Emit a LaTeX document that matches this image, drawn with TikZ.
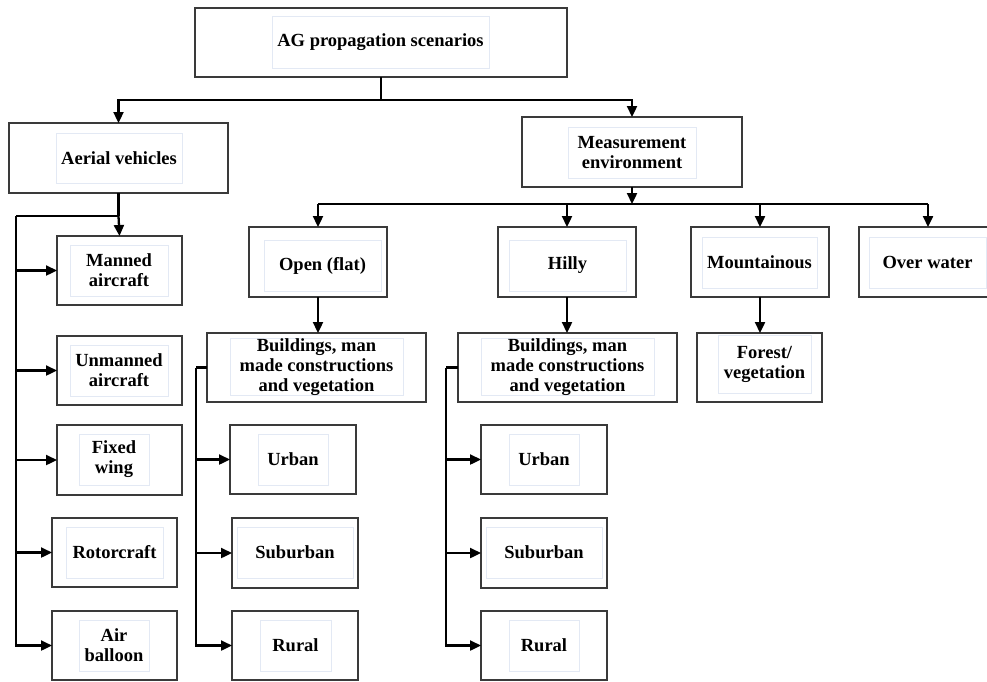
\documentclass[tikz,border=0pt]{standalone}
\usepackage{fontspec}
\setmainfont{Liberation Serif}
\usetikzlibrary{arrows.meta}
\definecolor{boxgray}{HTML}{3A3A3A}
\definecolor{faint}{HTML}{E3E9F4}
\begin{document}
\begin{tikzpicture}[x=1pt,y=-1pt,
  obox/.style 2 args={draw=boxgray, line width=1.4pt, minimum width=#1, minimum height=#2, inner sep=0pt, outer sep=0pt, fill=white},
  ibox/.style 2 args={draw=faint, line width=0.8pt, minimum width=#1, minimum height=#2, inner sep=0pt, outer sep=0pt, align=center, font=\bfseries\fontsize{18.5}{20}\selectfont},
  conn/.style={draw=black, line width=2.3pt},
  arr/.style={conn, -{Triangle[length=11pt,width=10pt]}}]
\clip (0,0) rectangle (987,681);
\fill[white] (0,0) rectangle (987,681);
% boxes
\node[obox={372pt}{69pt}] (root) at (381,42.5) {};
\node[ibox={217pt}{52pt}] (rootT) at (380.5,42) {AG propagation scenarios};
\node[obox={219pt}{70pt}] (aerial) at (118.5,158) {};
\node[ibox={126pt}{50pt}] (aerialT) at (119,158) {Aerial vehicles};
\node[obox={220pt}{70pt}] (meas) at (632,152) {};
\node[ibox={128pt}{51pt}] (measT) at (632,152.5) {Measurement\\environment};
% aerial vehicle types
\node[obox={125pt}{69pt}] (manned) at (119.5,270.5) {};
\node[ibox={98pt}{51pt}] (mannedT) at (119,270.5) {Manned\\aircraft};
\node[obox={125pt}{69pt}] (unmanned) at (119.5,370.5) {};
\node[ibox={98pt}{51pt}] (unmannedT) at (119,370.5) {Unmanned\\aircraft};
\node[obox={125pt}{70pt}] (fixed) at (119.5,460) {};
\node[ibox={70pt}{51pt}] (fixedT) at (114,459.5) {Fixed\\wing};
\node[obox={125pt}{69pt}] (rotor) at (114.5,552.5) {};
\node[ibox={97pt}{51pt}] (rotorT) at (114.5,552.5) {Rotorcraft};
\node[obox={125pt}{69pt}] (balloon) at (114.5,645.5) {};
\node[ibox={70pt}{51pt}] (balloonT) at (114,645.5) {Air\\balloon};
% environments
\node[obox={138pt}{70pt}] (open) at (318,262) {};
\node[ibox={117pt}{51pt}] (openT) at (322.5,265.5) {Open (flat)};
\node[obox={138pt}{70pt}] (hilly) at (567,262) {};
\node[ibox={117pt}{51pt}] (hillyT) at (567.5,265.5) {Hilly};
\node[obox={138pt}{70pt}] (mount) at (760,262) {};
\node[ibox={115pt}{51pt}] (mountT) at (759.5,262.5) {Mountainous};
\node[obox={138pt}{70pt}] (water) at (928,262) {};
\node[ibox={117pt}{51pt}] (waterT) at (927.5,262.5) {Over water};
% second level
\node[obox={219pt}{69pt}] (bone) at (316.5,367.5) {};
\node[ibox={173pt}{50pt}] (boneT) at (316.5,367) {Buildings, man\\made constructions\\and vegetation};
\node[obox={219pt}{69pt}] (btwo) at (567.5,367.5) {};
\node[ibox={173pt}{50pt}] (btwoT) at (567.5,367) {Buildings, man\\made constructions\\and vegetation};
\node[obox={125pt}{69pt}] (forest) at (759.5,367.5) {};
\node[ibox={93pt}{58pt}] (forestT) at (764.5,364) {Forest/\\vegetation};
% urban / suburban / rural
\node[obox={126pt}{69pt}] (urbanA) at (293,459.5) {};
\node[ibox={70pt}{51pt}] (urbanAT) at (293,459.5) {Urban};
\node[obox={126pt}{70pt}] (suburbA) at (295,553) {};
\node[ibox={116pt}{51pt}] (suburbAT) at (295,552.5) {Suburban};
\node[obox={126pt}{69pt}] (ruralA) at (295,645.5) {};
\node[ibox={71pt}{51pt}] (ruralAT) at (295.5,645.5) {Rural};
\node[obox={126pt}{69pt}] (urbanB) at (544,459.5) {};
\node[ibox={70pt}{51pt}] (urbanBT) at (544,459.5) {Urban};
\node[obox={126pt}{70pt}] (suburbB) at (544,553) {};
\node[ibox={116pt}{51pt}] (suburbBT) at (544,552.5) {Suburban};
\node[obox={126pt}{69pt}] (ruralB) at (544,645.5) {};
\node[ibox={70pt}{51pt}] (ruralBT) at (544,645.5) {Rural};
% connectors: root
\draw[conn] (root.south) -- ++(0,23) coordinate (jroot);
\draw[arr] (jroot) -| (aerial.north);
\draw[arr] (jroot) -| (meas.north);
% measurement environment
\coordinate (jmeas) at (632,204);
\draw[arr] (meas.south) -- (jmeas);
\draw[conn] (open.north |- jmeas) -- (water.north |- jmeas);
\draw[arr] (open.north |- jmeas) -- (open.north);
\draw[arr] (hilly.north |- jmeas) -- (hilly.north);
\draw[arr] (mount.north |- jmeas) -- (mount.north);
\draw[arr] (water.north |- jmeas) -- (water.north);
\draw[arr] (open.south) -- (open.south |- bone.north);
\draw[arr] (hilly.south) -- (hilly.south |- btwo.north);
\draw[arr] (mount.south) -- (mount.south |- forest.north);
% buildings branches
\draw[conn] (bone.west) -- ++(-11,0) coordinate (jbone);
\draw[arr] (jbone) |- (ruralA.west);
\draw[arr] (jbone |- urbanA.west) -- (urbanA.west);
\draw[arr] (jbone |- suburbA.west) -- (suburbA.west);
\draw[conn] (btwo.west) -- ++(-12,0) coordinate (jbtwo);
\draw[arr] (jbtwo) |- (ruralB.west);
\draw[arr] (jbtwo |- urbanB.west) -- (urbanB.west);
\draw[arr] (jbtwo |- suburbB.west) -- (suburbB.west);
% aerial branch
\draw[conn] (aerial.south) -- ++(0,23) coordinate (jaer);
\draw[arr] (jaer) -- (manned.north);
\draw[conn] (jaer) -- (16,216) coordinate (jleft);
\draw[arr] (jleft) |- (balloon.west);
\draw[arr] (jleft |- manned.west) -- (manned.west);
\draw[arr] (jleft |- unmanned.west) -- (unmanned.west);
\draw[arr] (jleft |- fixed.west) -- (fixed.west);
\draw[arr] (jleft |- rotor.west) -- (rotor.west);
\end{tikzpicture}
\end{document}
